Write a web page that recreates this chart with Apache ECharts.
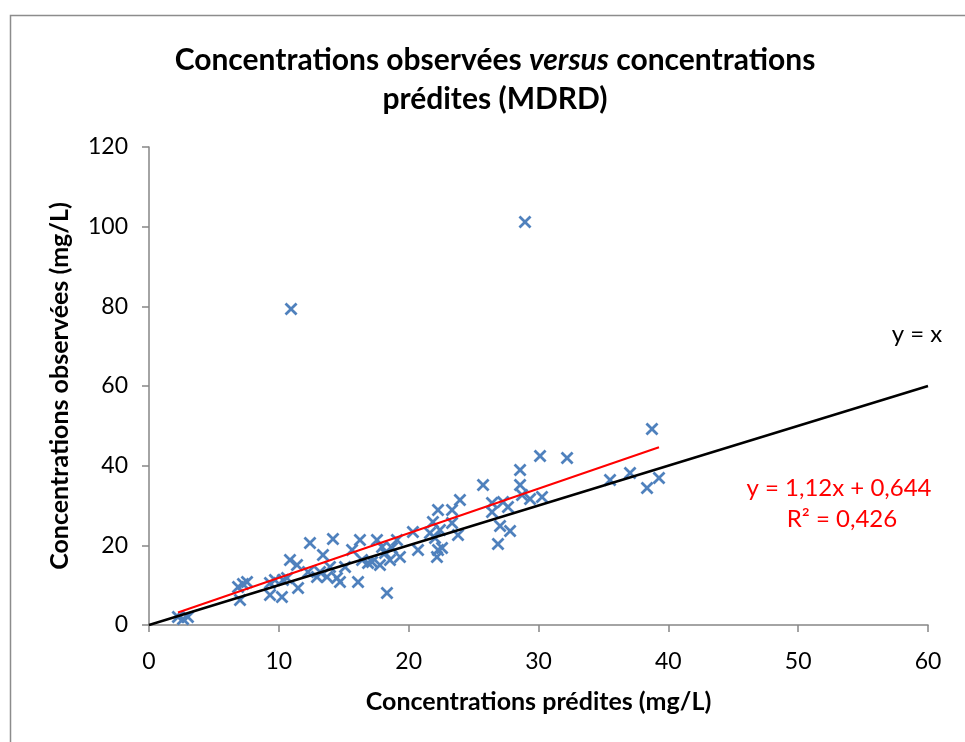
<!DOCTYPE html>
<html><head><meta charset="utf-8">
<script src="https://cdn.jsdelivr.net/npm/echarts@6/dist/echarts.min.js"></script>
<style>html,body{margin:0;padding:0;background:#fff}#c{width:965px;height:742px}</style>
</head><body><div id="c"></div>
<script>
const predicted = [2.23,3.00,2.62,6.86,7.55,7.01,7.24,9.32,9.32,10.24,9.70,10.32,10.86,11.40,11.48,10.63,12.40,12.25,12.94,13.17,13.40,13.71,14.17,13.94,14.48,14.71,15.10,16.25,16.41,16.10,17.18,17.56,17.79,18.18,18.33,18.56,19.10,17.95,18.72,19.33,20.72,20.33,21.64,22.41,22.03,22.26,22.57,22.18,23.80,21.87,23.34,22.26,23.34,23.95,25.73,28.58,30.12,32.20,28.58,28.73,26.42,27.27,27.65,26.42,29.35,30.27,27.04,27.81,26.88,35.51,37.05,38.36,39.28,38.74,10.94,28.96,15.64,16.87];
const observed  = [2.01,2.01,1.51,9.54,10.80,6.28,10.29,10.54,7.53,7.03,11.30,11.30,16.32,15.06,9.29,11.80,20.59,13.31,12.05,13.31,17.57,12.05,21.59,14.56,11.80,10.80,14.56,21.34,16.32,10.80,15.82,21.34,15.06,18.08,8.03,16.32,21.34,19.58,19.33,17.07,18.83,23.35,23.10,23.85,21.84,18.83,19.33,17.07,22.60,25.86,25.61,28.87,28.87,31.38,35.15,38.92,42.43,41.93,35.15,32.64,30.63,30.88,29.63,28.37,31.63,32.14,24.86,23.60,20.34,36.40,38.16,34.40,36.91,49.21,79.34,101.18,18.83,15.57];
const identityLine = [[0,0],[60,60]];
const trendSlope = 1.12, trendIntercept = 0.644;
const xName = 'Concentrations prédites (mg/L)';
const yName = 'Concentrations observées (mg/L)';

const pts = predicted.map((x,i)=>[x,observed[i]]);
const xmin = Math.min(...predicted), xmax = Math.max(...predicted);
const trend = [[xmin, trendSlope*xmin+trendIntercept],[xmax, trendSlope*xmax+trendIntercept]];
const FONT = 'Lato';
const chart = echarts.init(document.getElementById('c'));
chart.setOption({
  animation:false,
  backgroundColor:'#fff',
  textStyle:{fontFamily:FONT},
  title:{
    text:'{b|Concentrations observées }{i|versus}{b| concentrations}\n{b|prédites (MDRD)}',
    left:490, textAlign:'center', top:36,
    textStyle:{rich:{
      b:{fontFamily:FONT,fontWeight:'bold',fontSize:30,color:'#000',lineHeight:39},
      i:{fontFamily:FONT,fontWeight:'bold',fontStyle:'italic',fontSize:30,color:'#000',lineHeight:39}
    }}
  },
  grid:{left:149,top:147,right:37,bottom:117,containLabel:false},
  xAxis:{type:'value',min:0,max:60,interval:10,
    name:xName,nameLocation:'middle',nameGap:64,
    nameTextStyle:{fontFamily:FONT,fontWeight:'bold',fontSize:25,color:'#000'},
    axisLine:{show:true,onZero:false,lineStyle:{color:'#868686',width:1.5}},
    axisTick:{show:true,length:7,lineStyle:{color:'#868686',width:1.5}},
    axisLabel:{fontFamily:FONT,fontSize:23,color:'#000',margin:25},
    splitLine:{show:false}},
  yAxis:{type:'value',min:0,max:120,interval:20,
    name:yName,nameLocation:'middle',nameGap:77,nameRotate:90,
    nameTextStyle:{fontFamily:FONT,fontWeight:'bold',fontSize:25,color:'#000'},
    axisLine:{show:true,onZero:false,lineStyle:{color:'#868686',width:1.5}},
    axisTick:{show:true,length:7,lineStyle:{color:'#868686',width:1.5}},
    axisLabel:{fontFamily:FONT,fontSize:23,color:'#000',margin:21},
    splitLine:{show:false}},
  series:[
    {type:'scatter',data:pts,symbol:'path://M0,1.5L1.5,0L5,3.5L8.5,0L10,1.5L6.5,5L10,8.5L8.5,10L5,6.5L1.5,10L0,8.5L3.5,5Z',
      symbolSize:13,itemStyle:{color:'#4f81bd',opacity:1},z:3},
    {type:'line',data:trend,showSymbol:false,symbol:'none',lineStyle:{color:'#ff0000',width:2},z:4},
    {type:'line',data:identityLine,showSymbol:false,symbol:'none',lineStyle:{color:'#000',width:2.5},z:5}
  ],
  graphic:[
    {type:'rect',shape:{x:10.5,y:15.5,width:1000,height:1000},style:{fill:'none',stroke:'#8c8c8c',lineWidth:1.5},silent:true,z:-1},
    {type:'text',x:917,y:334,style:{text:'y = x',font:'24px '+FONT,fill:'#000',textAlign:'center',textVerticalAlign:'middle'}},
    {type:'text',x:839,y:488,style:{text:'y = 1,12x + 0,644',font:'24px '+FONT,fill:'#ff0000',textAlign:'center',textVerticalAlign:'middle'}},
    {type:'text',x:842,y:519,style:{text:'R² = 0,426',font:'24px '+FONT,fill:'#ff0000',textAlign:'center',textVerticalAlign:'middle'}}
  ]
});
</script></body></html>
